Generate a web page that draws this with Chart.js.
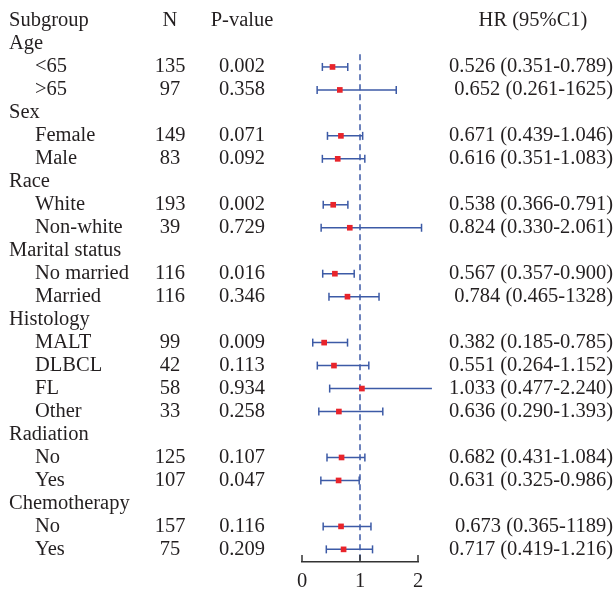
<!DOCTYPE html>
<html>
<head>
<meta charset="utf-8">
<script src="https://cdn.jsdelivr.net/npm/chart.js@4/dist/chart.umd.min.js"></script>
<style>
  html, body { margin: 0; padding: 0; background: #fff; }
  #wrap { width: 615px; height: 590px; position: relative; }
</style>
</head>
<body>
<div id="wrap"><canvas id="forest"></canvas></div>
<script>
// rows of the table, top to bottom (null = group header row)
const subgroups = ['Age', '<65', '>65', 'Sex', 'Female', 'Male', 'Race', 'White', 'Non-white',
    'Marital status', 'No married', 'Married', 'Histology', 'MALT', 'DLBCL', 'FL', 'Other',
    'Radiation', 'No', 'Yes', 'Chemotherapy', 'No', 'Yes'];
const isGroup = [true, false, false, true, false, false, true, false, false,
    true, false, false, true, false, false, false, false,
    true, false, false, true, false, false];
const nValues = [null, 135, 97, null, 149, 83, null, 193, 39, null, 116, 116, null, 99, 42, 58, 33,
    null, 125, 107, null, 157, 75];
const pValues = [null, '0.002', '0.358', null, '0.071', '0.092', null, '0.002', '0.729',
    null, '0.016', '0.346', null, '0.009', '0.113', '0.934', '0.258',
    null, '0.107', '0.047', null, '0.116', '0.209'];
const hrValues = [null, 0.526, 0.652, null, 0.671, 0.616, null, 0.538, 0.824, null, 0.567, 0.784,
    null, 0.382, 0.551, 1.033, 0.636, null, 0.682, 0.631, null, 0.673, 0.717];
const lowerCI = [null, 0.351, 0.261, null, 0.439, 0.351, null, 0.366, 0.330, null, 0.357, 0.465,
    null, 0.185, 0.264, 0.477, 0.290, null, 0.431, 0.325, null, 0.365, 0.419];
const upperCI = [null, 0.789, 1.625, null, 1.046, 1.083, null, 0.791, 2.061, null, 0.900, 1.328,
    null, 0.785, 1.152, 2.240, 1.393, null, 1.084, 0.986, null, 1.189, 1.216];
const hrLabels = [null, '0.526 (0.351-0.789)', '0.652 (0.261-1625)', null, '0.671 (0.439-1.046)',
    '0.616 (0.351-1.083)', null, '0.538 (0.366-0.791)', '0.824 (0.330-2.061)', null,
    '0.567 (0.357-0.900)', '0.784 (0.465-1328)', null, '0.382 (0.185-0.785)', '0.551 (0.264-1.152)',
    '1.033 (0.477-2.240)', '0.636 (0.290-1.393)', null, '0.682 (0.431-1.084)', '0.631 (0.325-0.986)',
    null, '0.673 (0.365-1189)', '0.717 (0.419-1.216)'];
const headers = ['Subgroup', 'N', 'P-value', 'HR (95%C1)'];
const xTicks = [0, 1, 2];
const refLine = 1;

const BLUE = '#3c5aa6';
const RED = '#e8242b';
const TEXT = '#231f20';
const FONT = '20.5px "Liberation Serif", "DejaVu Serif", serif';

const rowIdx = subgroups.map((s, i) => i).filter(i => hrValues[i] != null);

const ciSets = rowIdx.map(i => ({
    type: 'line',
    data: [{ x: lowerCI[i], y: i }, { x: upperCI[i], y: i }],
    borderColor: BLUE,
    borderWidth: 1.5,
    pointRadius: 0,
    showLine: true,
    clip: false
}));

const capSet = {
    data: rowIdx.flatMap(i => [{ x: lowerCI[i], y: i }, { x: upperCI[i], y: i }]),
    pointStyle: 'line',
    rotation: 90,
    pointRadius: 4,
    borderColor: BLUE,
    borderWidth: 1.5,
    clip: false
};

const hrSet = {
    data: rowIdx.map(i => ({ x: hrValues[i], y: i })),
    pointStyle: 'rect',
    pointRadius: 4,
    backgroundColor: RED,
    borderWidth: 0
};

const refSet = {
    type: 'line',
    data: [{ x: refLine, y: 0.45 }, { x: refLine, y: subgroups.length - 0.45 }],
    borderColor: BLUE,
    borderWidth: 1.5,
    borderDash: [6, 4],
    pointRadius: 0,
    showLine: true
};

// table columns + upward tick marks
const tablePlugin = {
    id: 'table',
    afterDraw(chart) {
        const { ctx, scales: { x, y } } = chart;
        ctx.save();
        ctx.font = FONT;
        ctx.fillStyle = TEXT;
        ctx.textBaseline = 'middle';

        const hy = y.getPixelForValue(-1);
        ctx.textAlign = 'left';
        ctx.fillText(headers[0], 9, hy);
        ctx.textAlign = 'center';
        ctx.fillText(headers[1], 170, hy);
        ctx.fillText(headers[2], 242, hy);
        ctx.fillText(headers[3], 533, hy);

        subgroups.forEach((s, i) => {
            const py = y.getPixelForValue(i);
            ctx.textAlign = 'left';
            ctx.fillText(s, isGroup[i] ? 9 : 35, py);
            if (nValues[i] != null) {
                ctx.textAlign = 'center';
                ctx.fillText(String(nValues[i]), 170, py);
                ctx.fillText(pValues[i], 242, py);
                ctx.textAlign = 'right';
                ctx.fillText(hrLabels[i], 613, py);
            }
        });

        ctx.strokeStyle = '#333';
        ctx.lineWidth = 1.5;
        x.ticks.forEach(t => {
            const px = x.getPixelForValue(t.value);
            ctx.beginPath();
            ctx.moveTo(px, chart.chartArea.bottom);
            ctx.lineTo(px, chart.chartArea.bottom - 7);
            ctx.stroke();
        });
        ctx.restore();
    }
};

new Chart(document.getElementById('forest'), {
    type: 'scatter',
    // first dataset is drawn on top
    data: { datasets: [hrSet, capSet, ...ciSets, refSet] },
    options: {
        responsive: true,
        maintainAspectRatio: false,
        animation: false,
        events: [],
        layout: { padding: { left: 302, right: 197, top: 21, bottom: 0 } },
        plugins: { legend: { display: false }, tooltip: { enabled: false } },
        scales: {
            x: {
                type: 'linear',
                min: xTicks[0],
                max: xTicks[xTicks.length - 1],
                afterBuildTicks: axis => { axis.ticks = xTicks.map(v => ({ value: v })); },
                afterFit: axis => { axis.height = 28; },
                ticks: {
                    color: TEXT,
                    padding: 9,
                    font: { family: '"Liberation Serif", "DejaVu Serif", serif', size: 20.5, lineHeight: 1 }
                },
                grid: { display: false, drawTicks: false },
                border: { display: true, color: '#333', width: 1.5 }
            },
            y: {
                type: 'linear',
                reverse: true,
                min: -1,
                max: subgroups.length - 0.45,
                display: false
            }
        }
    },
    plugins: [tablePlugin]
});
</script>
</body>
</html>
